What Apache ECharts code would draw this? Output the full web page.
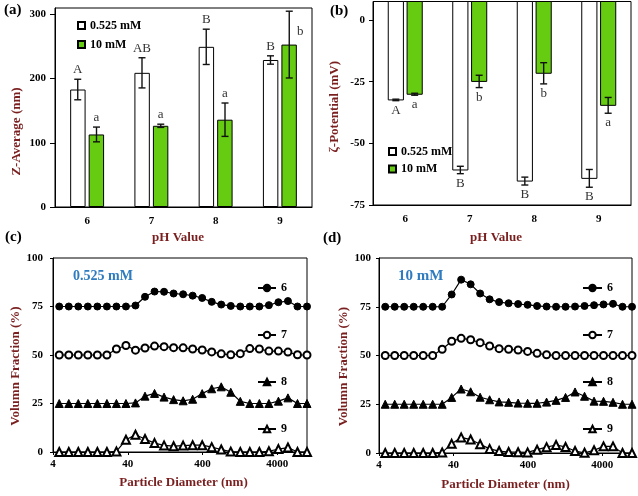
<!DOCTYPE html>
<html><head><meta charset="utf-8">
<script src="https://cdn.jsdelivr.net/npm/echarts@6/dist/echarts.min.js"></script>
<style>html,body{margin:0;padding:0;background:#fff}#c{width:638px;height:496px}</style>
</head><body><div id="c"></div>
<script>
// ---------- data ----------
const pH = ['6', '7', '8', '9'];
const zAvgLow = [183, 209, 249.5, 229];
const zAvgLowErr = [16, 23.5, 27.5, 6.5];
const zAvgHigh = [113, 126.5, 136, 253];
const zAvgHighErr = [11.5, 2.5, 26, 52];
const zAvgLowLetters = ['A', 'AB', 'B', 'B'];
const zAvgHighLetters = ['a', 'a', 'a', 'b'];
const zetaLow = [-32.4, -60.8, -65.3, -64.2];
const zetaLowErr = [0.3, 1.5, 1.6, 3.6];
const zetaHigh = [-30.1, -24.9, -21.6, -34.6];
const zetaHighErr = [0.4, 2.5, 4.3, 3.2];
const zetaLowLetters = ['A', 'B', 'B', 'B'];
const zetaHighLetters = ['a', 'b', 'b', 'a'];
const zTicks = [0, 100, 200, 300];
const zetaTicks = [-75, -50, -25, 0];
const diamTicks = [4, 40, 400, 4000];
const diameter = [4.849, 6.503, 8.721, 11.7, 15.69, 21.04, 28.21, 37.84, 50.75, 68.06, 91.28, 122.4, 164.2, 220.2, 295.3, 396.1, 531.2, 712.4, 955.4, 1281, 1718, 2305, 3091, 4145, 5560, 7456, 10000];
const seriesNames = ['6', '7', '8', '9'];
// panel (c) 0.525 mM (offset curves as plotted)
const c6 = [75,75,75,75,75,75,75,75,75.5,80,82.7,82.6,81.7,81.3,80.6,79.4,77.4,76,75.3,75,75,75,75.7,77.2,77.8,75,75];
const c7 = [50,50,50,50,50,50,53.1,54.9,52.5,53.6,54.6,54.3,53.8,53.7,53.1,52.6,51.6,50.6,50.1,50.7,53.3,53.1,52,52,51.5,50.1,50];
const c8 = [25,25,25,25,25,25,25,25,25.3,28.8,30.2,28.3,27,26.4,27.2,30.1,32.6,33.6,30.8,26.1,25,25,25,26.2,27.9,25,25];
const c9 = [0,0,0,0,0,0,0.3,6.3,8.9,6.7,4.6,3.4,3,3.3,3.5,3.5,2.5,1.3,0.2,0,0,0,0.4,1.5,2.3,0,0];
// panel (d) 10 mM
const d6 = [75,75,75,75,75,75,75,81.3,88.9,86.5,81.8,78.8,77.4,76.8,76.4,76,75.4,75.1,75,75,75.1,75.4,75.8,76.2,76.5,75,75];
const d7 = [50,50,50,50,50,50,53.2,57.3,58.8,58.1,56.6,54.9,53.5,53.2,52.8,52.1,51.1,50.4,50,50,50,50,50,50,50,50,50];
const d8 = [25,25,25,25,25,25,25,28.5,32.8,31.4,28.6,27.3,26.2,26,25.6,25.5,25.5,26.1,27,28.5,31.3,29.1,26.6,26.5,26,25,25];
const d9 = [0,0,0,0,0,0,0.3,4.7,8,6.9,4.5,2.1,1,0.5,0.4,0.3,1.7,3,4.1,3.1,1,0.1,1.4,3.4,3.4,0,0];

// ---------- styles ----------
const serif = '"Liberation Serif", "Times New Roman", serif';
const titleColor = '#7a1f1f';
const green = '#66cc11';
const xMin = 4, xMax = 10000;

const tickLabel = { color: '#000', fontFamily: serif, fontWeight: 'bold', fontSize: 11 };
const nameStyle = (pad) => ({ color: titleColor, fontFamily: serif, fontWeight: 'bold', fontSize: 13, padding: pad });
const blackLine = { onZero: false, lineStyle: { color: '#000', width: 1 } };

function catAxis(gi, gap, pad) {
  return {
    gridIndex: gi, type: 'category', data: pH, position: 'bottom',
    axisTick: { show: false }, axisLine: blackLine, splitLine: { show: false },
    axisLabel: Object.assign({ margin: 9, fontSize: 12 }, tickLabel),
    name: 'pH Value', nameLocation: 'middle', nameGap: gap, nameTextStyle: nameStyle(pad)
  };
}
function logAxis(gi) {
  return {
    gridIndex: gi, type: 'log', min: xMin, max: xMax, position: 'bottom',
    axisLabel: { show: false }, axisTick: { show: false }, splitLine: { show: false },
    axisLine: blackLine
  };
}
function diamLabelAxis(gi, gap, pad) {
  const vals = diamTicks.map(Math.log10);
  return {
    gridIndex: gi, type: 'value', min: Math.log10(xMin), max: Math.log10(xMax), position: 'bottom',
    axisLine: { show: false, onZero: false }, splitLine: { show: false },
    axisTick: { show: true, customValues: vals, length: 3, lineStyle: { color: '#000' } },
    axisLabel: Object.assign({ customValues: vals, margin: 7,
      formatter: v => String(Math.round(Math.pow(10, v))) }, tickLabel),
    name: 'Particle Diameter (nm)', nameLocation: 'middle', nameGap: gap, nameTextStyle: nameStyle(pad)
  };
}
function valAxis(gi, opts) {
  return Object.assign({
    gridIndex: gi, type: 'value', axisLine: { show: true, onZero: false, lineStyle: { color: '#000' } },
    splitLine: { show: false }, nameLocation: 'middle'
  }, opts);
}

function offsetOf(api, side) { return side * api.size([1, 0])[0] * 0.146; }

function errRender(side, letters, above) {
  return function (params, api) {
    const cat = api.value(0), m = api.value(1), e = api.value(2);
    const x = api.coord([cat, m])[0] + offsetOf(api, side);
    const yHi = api.coord([cat, m + e])[1];
    const yLo = api.coord([cat, m - e])[1];
    const cap = 3.5;
    const st = { stroke: '#111', lineWidth: 1.4 };
    let tx = x, ty = above ? yHi - 3 : yLo + 3, va = above ? 'bottom' : 'top';
    // no room above the error bar: put the letter beside it
    if (above && yHi - 16 < params.coordSys.y) { tx = x + 11; ty = yHi + 20; va = 'middle'; }
    return {
      type: 'group',
      children: [
        { type: 'line', shape: { x1: x, y1: yHi, x2: x, y2: yLo }, style: st },
        { type: 'line', shape: { x1: x - cap, y1: yHi, x2: x + cap, y2: yHi }, style: st },
        { type: 'line', shape: { x1: x - cap, y1: yLo, x2: x + cap, y2: yLo }, style: st },
        { type: 'text', x: tx, y: ty,
          style: { text: letters[params.dataIndex], fill: '#333', font: '13px ' + serif,
                   align: 'center', verticalAlign: va } }
      ]
    };
  };
}
function hangBarRender(side, fill) {
  return function (params, api) {
    const cat = api.value(0), v = api.value(1);
    const bw = api.size([1, 0])[0];
    const w = bw * 0.235;
    const c = api.coord([cat, v]);
    const x = c[0] + offsetOf(api, side) - w / 2;
    const top = params.coordSys.y;
    return { type: 'rect', shape: { x: x, y: top, width: w, height: c[1] - top },
             style: { fill: fill, stroke: '#000', lineWidth: 1 } };
  };
}
const idxData = (means, errs) => means.map((m, i) => errs ? [i, m, errs[i]] : [i, m]);
const xy = (vals) => diameter.map((d, i) => [d, vals[i]]);

function lineSeries(name, vals, ax, symbol, size) {
  return {
    type: 'line', name: name, xAxisIndex: ax, yAxisIndex: ax === 2 ? 2 : 3,
    data: xy(vals), symbol: symbol, symbolSize: size, showAllSymbol: true,
    lineStyle: { color: '#000', width: 1.2 },
    itemStyle: { color: '#000', borderColor: '#000', borderWidth: 1 }, z: 3
  };
}
const symbols = [['circle', 7], ['emptyCircle', 7], ['triangle', 8], ['emptyTriangle', 8]];
const legendText = { color: '#000', fontFamily: serif, fontWeight: 'bold', fontSize: 12 };

const option = {
  animation: false,
  backgroundColor: '#fff',
  grid: [
    { left: 55, right: 326, top: 8, bottom: 289, show: true, borderColor: '#000', borderWidth: 1 },
    { left: 373, right: 7, top: 1.5, bottom: 291, show: true, borderColor: '#000', borderWidth: 1 },
    { left: 53, right: 331, top: 258, bottom: 44, show: true, borderColor: '#000', borderWidth: 1 },
    { left: 379, right: 6, top: 258, bottom: 43, show: true, borderColor: '#000', borderWidth: 1 }
  ],
  xAxis: [
    catAxis(0, 24, [0, 11, 0, 0]),
    catAxis(1, 26.5, [0, 12, 0, 0]),
    logAxis(2),
    diamLabelAxis(2, 24.5, [0, 0, 0, 7]),
    logAxis(3),
    diamLabelAxis(3, 25, [0, 0, 0, 0])
  ],
  yAxis: [
    valAxis(0, { min: 0, max: 310,
      axisLabel: Object.assign({ customValues: zTicks, margin: 9 }, tickLabel),
      axisTick: { show: true, customValues: zTicks, length: 5, lineStyle: { color: '#000' } },
      name: 'Z-Average (nm)', nameGap: 32, nameTextStyle: nameStyle([0, 48, 0, 0]) }),
    valAxis(1, { min: -75, max: 7.5,
      axisLabel: Object.assign({ customValues: zetaTicks, margin: 8 }, tickLabel),
      axisTick: { show: true, customValues: zetaTicks, length: 4, lineStyle: { color: '#000' } },
      name: 'ζ-Potential (mV)', nameGap: 32, nameTextStyle: nameStyle([0, 7, 0, 0]) }),
    valAxis(2, { min: 0, max: 100, interval: 25,
      axisLabel: Object.assign({ margin: 10 }, tickLabel),
      axisTick: { show: true, length: 3, lineStyle: { color: '#000' } },
      name: 'Volumn Fraction (%)', nameGap: 28, nameTextStyle: nameStyle([0, 22, 0, 0]) }),
    valAxis(3, { min: 0, max: 100, interval: 25,
      axisLabel: Object.assign({ margin: 8 }, tickLabel),
      axisTick: { show: true, length: 3, lineStyle: { color: '#000' } },
      name: 'Volumn Fraction (%)', nameGap: 28, nameTextStyle: nameStyle([0, 22, 0, 0]) })
  ],
  legend: [
    { data: ['0.525 mM', '10 mM'], orient: 'vertical', left: 72, top: 14.5, itemWidth: 7, itemHeight: 7,
      itemGap: 7, icon: 'rect', selectedMode: false, textStyle: legendText },
    { data: ['0.525 mM', '10 mM'], orient: 'vertical', left: 383, top: 140.5, itemWidth: 7, itemHeight: 7,
      itemGap: 5.5, icon: 'rect', selectedMode: false, textStyle: legendText },
    { data: seriesNames, orient: 'vertical', left: 252, top: 277, itemWidth: 18, itemHeight: 8,
      itemGap: 35, selectedMode: false, textStyle: legendText },
    { data: seriesNames, orient: 'vertical', left: 577, top: 277, itemWidth: 19, itemHeight: 8,
      itemGap: 35, selectedMode: false, textStyle: legendText }
  ],
  graphic: [
    { type: 'text', left: 4, top: 3, style: { text: '(a)', font: 'bold 15px ' + serif, fill: '#000' } },
    { type: 'text', left: 330, top: 4, style: { text: '(b)', font: 'bold 15px ' + serif, fill: '#000' } },
    { type: 'text', left: 5, top: 230, style: { text: '(c)', font: 'bold 15px ' + serif, fill: '#000' } },
    { type: 'text', left: 323, top: 231, style: { text: '(d)', font: 'bold 15px ' + serif, fill: '#000' } },
    { type: 'text', left: 73, top: 269, style: { text: '0.525 mM', font: 'bold 14px ' + serif, fill: '#2e7bbf' } },
    { type: 'text', left: 398, top: 269, style: { text: '10 mM', font: 'bold 15px ' + serif, fill: '#2e7bbf' } }
  ],
  series: [
    { type: 'bar', name: '0.525 mM', xAxisIndex: 0, yAxisIndex: 0, data: zAvgLow, barWidth: '24%', barGap: '20%',
      itemStyle: { color: '#fff', borderColor: '#000', borderWidth: 1 } },
    { type: 'bar', name: '10 mM', xAxisIndex: 0, yAxisIndex: 0, data: zAvgHigh, barWidth: '24%', barGap: '20%',
      itemStyle: { color: green, borderColor: '#000', borderWidth: 1 } },
    { type: 'custom', name: 'errA1', xAxisIndex: 0, yAxisIndex: 0, data: idxData(zAvgLow, zAvgLowErr),
      renderItem: errRender(-1, zAvgLowLetters, true), encode: { x: 0, y: 1 }, z: 5 },
    { type: 'custom', name: 'errA2', xAxisIndex: 0, yAxisIndex: 0, data: idxData(zAvgHigh, zAvgHighErr),
      renderItem: errRender(1, zAvgHighLetters, true), encode: { x: 0, y: 1 }, z: 5 },
    { type: 'custom', name: 'zeta1', xAxisIndex: 1, yAxisIndex: 1, data: idxData(zetaLow),
      renderItem: hangBarRender(-1, '#fff'), encode: { x: 0, y: 1 }, z: 2 },
    { type: 'custom', name: 'zeta2', xAxisIndex: 1, yAxisIndex: 1, data: idxData(zetaHigh),
      renderItem: hangBarRender(1, green), encode: { x: 0, y: 1 }, z: 2 },
    { type: 'custom', name: 'errB1', xAxisIndex: 1, yAxisIndex: 1, data: idxData(zetaLow, zetaLowErr),
      renderItem: errRender(-1, zetaLowLetters, false), encode: { x: 0, y: 1 }, z: 5 },
    { type: 'custom', name: 'errB2', xAxisIndex: 1, yAxisIndex: 1, data: idxData(zetaHigh, zetaHighErr),
      renderItem: errRender(1, zetaHighLetters, false), encode: { x: 0, y: 1 }, z: 5 },
    lineSeries('6', c6, 2, symbols[0][0], symbols[0][1]),
    lineSeries('7', c7, 2, symbols[1][0], symbols[1][1]),
    lineSeries('8', c8, 2, symbols[2][0], symbols[2][1]),
    lineSeries('9', c9, 2, symbols[3][0], symbols[3][1]),
    lineSeries('6', d6, 4, symbols[0][0], symbols[0][1]),
    lineSeries('7', d7, 4, symbols[1][0], symbols[1][1]),
    lineSeries('8', d8, 4, symbols[2][0], symbols[2][1]),
    lineSeries('9', d9, 4, symbols[3][0], symbols[3][1])
  ]
};
const chart = echarts.init(document.getElementById('c'), null, { renderer: 'canvas' });
chart.setOption(option);
</script>
</body></html>
